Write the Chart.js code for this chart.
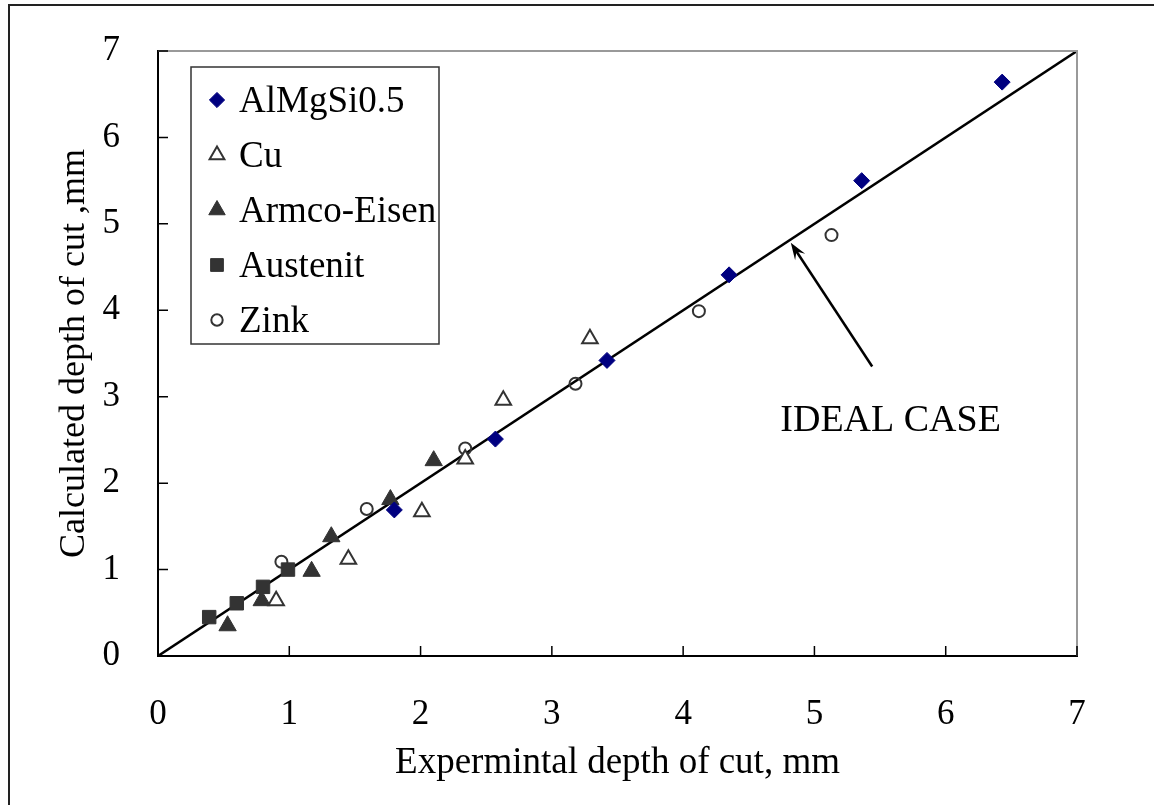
<!DOCTYPE html>
<html>
<head>
<meta charset="utf-8">
<script src="https://cdn.jsdelivr.net/npm/chart.js@4.4.1/dist/chart.umd.min.js"></script>
<style>
  html, body { margin: 0; padding: 0; background: #fff; }
  #wrap { position: relative; width: 1154px; height: 805px; overflow: hidden; }
  #frame { position: absolute; left: 8px; top: 4px; width: 1300px; height: 1000px; border: 2px solid #222; box-sizing: border-box; pointer-events: none; }
  canvas { position: absolute; left: 0; top: 0; }
</style>
</head>
<body>
<div id="wrap">
  <canvas id="cut-chart" width="1154" height="805"></canvas>
  <div id="frame"></div>
</div>
<script>
// experimental (x) vs calculated (y) depth of cut, mm
const seriesNames = ["AlMgSi0.5", "Cu", "Armco-Eisen", "Austenit", "Zink"];

const alExp   = [1.80, 2.57, 3.42, 4.35, 5.36, 6.43];
const alCalc  = [1.69, 2.51, 3.42, 4.41, 5.50, 6.64];
const cuExp   = [0.90, 1.45, 2.01, 2.34, 2.63, 3.29];
const cuCalc  = [0.64, 1.12, 1.67, 2.28, 2.96, 3.67];
const feExp   = [0.53, 0.79, 1.17, 1.32, 1.77, 2.10];
const feCalc  = [0.35, 0.64, 0.98, 1.38, 1.81, 2.26];
const ausExp  = [0.39, 0.60, 0.80, 0.99];
const ausCalc = [0.45, 0.61, 0.80, 1.00];
const znExp   = [0.94, 1.59, 2.34, 3.18, 4.12, 5.13];
const znCalc  = [1.09, 1.70, 2.40, 3.15, 3.99, 4.87];

const idealLine = [0, 7];
const tickValues = [0, 1, 2, 3, 4, 5, 6, 7];

const FONT = "'Liberation Serif', 'Times New Roman', serif";
const DARK = "#333333";
const NAVY = "#000080";

function pts(xs, ys) {
  return xs.map((v, i) => ({ x: v, y: ys[i] }));
}

const styles = [
  { pointStyle: "rectRot", radius: 8, bg: NAVY, border: NAVY, bw: 1 },
  { pointStyle: "triangle", radius: 9, bg: "#ffffff", border: DARK, bw: 2 },
  { pointStyle: "triangle", radius: 10, bg: DARK, border: DARK, bw: 1 },
  { pointStyle: "rect", radius: 9.5, bg: DARK, border: DARK, bw: 1 },
  { pointStyle: "circle", radius: 6, bg: "rgba(0,0,0,0)", border: DARK, bw: 2 },
];

const seriesData = [
  pts(alExp, alCalc),
  pts(cuExp, cuCalc),
  pts(feExp, feCalc),
  pts(ausExp, ausCalc),
  pts(znExp, znCalc),
];

let datasets = seriesNames.map((name, i) => ({
  label: name,
  data: seriesData[i],
  pointStyle: styles[i].pointStyle,
  pointRadius: styles[i].radius,
  pointBackgroundColor: styles[i].bg,
  pointBorderColor: styles[i].border,
  pointBorderWidth: styles[i].bw,
  showLine: false,
  order: 1,
}));

datasets.push({
  label: "IDEAL CASE",
  data: pts(idealLine, idealLine),
  showLine: true,
  borderColor: "#000000",
  borderWidth: 2.5,
  pointRadius: 0,
  order: 10,
});

// inside tick marks + grey top/right frame of the plot
const plotFrame = {
  id: "plotFrame",
  afterDraw(chart) {
    const { ctx, chartArea: a, scales } = chart;
    ctx.save();
    ctx.strokeStyle = "#999999";
    ctx.lineWidth = 2;
    ctx.beginPath();
    ctx.moveTo(a.left, a.top);
    ctx.lineTo(a.right, a.top);
    ctx.lineTo(a.right, a.bottom);
    ctx.stroke();

    ctx.strokeStyle = "#000000";
    ctx.lineWidth = 1.5;
    ctx.beginPath();
    tickValues.forEach((v) => {
      const px = scales.x.getPixelForValue(v);
      ctx.moveTo(px, a.bottom);
      ctx.lineTo(px, a.bottom - 10);
      const py = scales.y.getPixelForValue(v);
      ctx.moveTo(a.left, py);
      ctx.lineTo(a.left + 10, py);
    });
    ctx.stroke();
    ctx.restore();
  },
};

// arrow and "IDEAL CASE" label
const idealNote = {
  id: "idealNote",
  afterDraw(chart) {
    const { ctx, scales: { x, y } } = chart;
    const tx = x.getPixelForValue(4.82), ty = y.getPixelForValue(4.78);
    const fx = x.getPixelForValue(5.44), fy = y.getPixelForValue(3.35);
    const ang = Math.atan2(ty - fy, tx - fx);
    ctx.save();
    ctx.strokeStyle = "#000";
    ctx.fillStyle = "#000";
    ctx.lineWidth = 2.5;
    ctx.beginPath();
    ctx.moveTo(fx, fy);
    ctx.lineTo(tx - 8 * Math.cos(ang), ty - 8 * Math.sin(ang));
    ctx.stroke();
    const L = 17, W = 6;
    const bx = tx - L * Math.cos(ang), by = ty - L * Math.sin(ang);
    const nx = -Math.sin(ang), ny = Math.cos(ang);
    ctx.beginPath();
    ctx.moveTo(tx, ty);
    ctx.lineTo(bx + W * nx, by + W * ny);
    ctx.lineTo(tx - 0.6 * L * Math.cos(ang), ty - 0.6 * L * Math.sin(ang));
    ctx.lineTo(bx - W * nx, by - W * ny);
    ctx.closePath();
    ctx.fill();

    ctx.font = "38px " + FONT;
    ctx.textAlign = "left";
    ctx.textBaseline = "middle";
    ctx.fillText("IDEAL CASE", x.getPixelForValue(4.74), y.getPixelForValue(2.72));
    ctx.restore();
  },
};

// boxed legend inside the plot, top left
const boxLegend = {
  id: "boxLegend",
  afterDraw(chart) {
    const { ctx, chartArea: a } = chart;
    const left = a.left + 33, top = a.top + 16, w = 248, h = 277;
    ctx.save();
    ctx.fillStyle = "#ffffff";
    ctx.fillRect(left, top, w, h);
    ctx.strokeStyle = DARK;
    ctx.lineWidth = 1.5;
    ctx.strokeRect(left, top, w, h);
    ctx.font = "37px " + FONT;
    ctx.textBaseline = "middle";
    ctx.textAlign = "left";
    seriesNames.forEach((name, i) => {
      const cy = top + 33 + i * 55;
      const s = styles[i];
      ctx.fillStyle = s.bg;
      ctx.strokeStyle = s.border;
      ctx.lineWidth = s.bw;
      Chart.helpers.drawPoint(ctx, { pointStyle: s.pointStyle, radius: s.radius * 0.95, rotation: 0, borderWidth: s.bw }, left + 26, cy);
      ctx.fillStyle = "#000";
      ctx.fillText(name, left + 48, cy + 2);
    });
    ctx.restore();
  },
};

new Chart(document.getElementById("cut-chart"), {
  type: "scatter",
  data: { datasets: datasets },
  options: {
    responsive: false,
    animation: false,
    layout: { padding: { top: 50, right: 77, left: 0, bottom: 0 } },
    plugins: { legend: { display: false }, tooltip: { enabled: false } },
    scales: {
      x: {
        type: "linear",
        min: 0,
        max: 7,
        afterFit: (scale) => { scale.height = 149; },
        afterBuildTicks: (scale) => { scale.ticks = tickValues.map((v) => ({ value: v })); },
        grid: { display: false },
        border: { display: true, color: "#000", width: 2 },
        ticks: { color: "#000", padding: 30, font: { family: FONT, size: 35 } },
        title: {
          display: true,
          text: "Expermintal depth of cut, mm",
          color: "#000",
          font: { family: FONT, size: 37 },
          padding: { top: 0, bottom: 20 },
        },
      },
      y: {
        type: "linear",
        min: 0,
        max: 7,
        afterFit: (scale) => { scale.width = 158; },
        afterBuildTicks: (scale) => { scale.ticks = tickValues.map((v) => ({ value: v })); },
        grid: { display: false },
        border: { display: true, color: "#000", width: 2 },
        ticks: { color: "#000", padding: 30, font: { family: FONT, size: 35 } },
        title: {
          display: true,
          text: "Calculated depth of cut ,mm",
          color: "#000",
          font: { family: FONT, size: 36 },
          padding: { top: 53, bottom: 0 },
        },
      },
    },
  },
  plugins: [plotFrame, idealNote, boxLegend],
});
</script>
</body>
</html>
